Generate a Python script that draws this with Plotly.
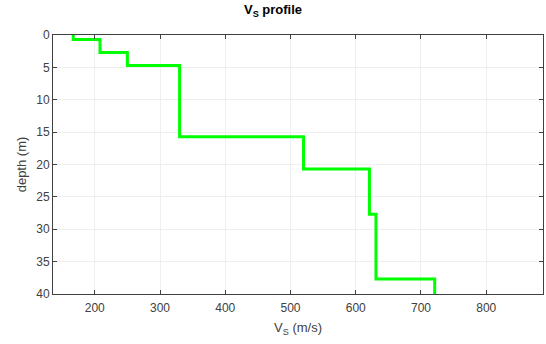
import plotly.graph_objects as go

# Layered Vs profile
layer_top = [0, 0.7, 2.7, 4.7, 15.7, 20.7, 27.7, 37.7]
layer_bottom = [0.7, 2.7, 4.7, 15.7, 20.7, 27.7, 37.7, 40]
vs = [167, 208, 250, 330, 520, 621, 631, 721]

x_ticks = [200, 300, 400, 500, 600, 700, 800]
y_ticks = [0, 5, 10, 15, 20, 25, 30, 35, 40]

xs, ys = [], []
for v, t, b in zip(vs, layer_top, layer_bottom):
    xs += [v, v]
    ys += [t, b]

fig = go.Figure()
fig.add_trace(go.Scatter(x=xs, y=ys, mode="lines",
                         line=dict(color="#00ff00", width=3), showlegend=False))

font = "Liberation Sans, Arial, sans-serif"
fig.update_layout(
    width=546, height=344,
    margin=dict(l=53, r=3, t=35, b=50),
    paper_bgcolor="white", plot_bgcolor="white",
    font=dict(family=font, size=12, color="#404040"),
    title=dict(text="<b>V<sub>S</sub> profile</b>", x=0.5, xanchor="center",
               y=0.985, yanchor="top", font=dict(size=13, color="#000000")),
    xaxis=dict(range=[136, 887], tickvals=x_ticks, ticks="inside", ticklen=4,
               tickcolor="#404040", showline=True, linecolor="#404040", mirror="ticks",
               showgrid=True, gridcolor="#efefef", gridwidth=1, zeroline=False,
               ticklabelstandoff=3, tickfont=dict(size=12, color="#404040"),
               title=dict(text="V<sub>S</sub> (m/s)", standoff=8,
                          font=dict(size=13, color="#404040"))),
    yaxis=dict(range=[40, 0], tickvals=y_ticks, ticks="inside", ticklen=4,
               tickcolor="#404040", showline=True, linecolor="#404040", mirror="ticks",
               showgrid=True, gridcolor="#efefef", gridwidth=1, zeroline=False,
               tickfont=dict(size=12, color="#404040"),
               title=dict(text="depth (m)", standoff=6,
                          font=dict(size=13, color="#404040"))),
)

fig.write_html("out.html")
